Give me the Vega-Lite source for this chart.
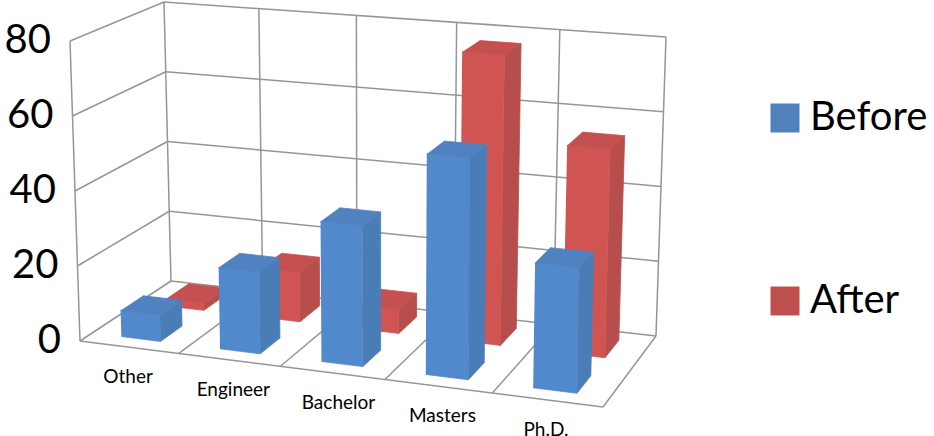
{
"$schema":"https://vega.github.io/schema/vega-lite/v6.json",
"width":934,"height":436,"padding":0,"autosize":{"type":"none"},
"background":"white",
"config":{"view":{"stroke":null},"text":{"font":"Lato"}},
"layer":[
{"data":{"values":[
{"ua":0,"da":0,"va":0,"ub":0,"db":1,"vb":0},{"ua":0,"da":0,"va":20,"ub":0,"db":1,"vb":20},{"ua":0,"da":0,"va":40,"ub":0,"db":1,"vb":40},{"ua":0,"da":0,"va":60,"ub":0,"db":1,"vb":60},{"ua":0,"da":0,"va":80,"ub":0,"db":1,"vb":80},
{"ua":0,"da":1,"va":0,"ub":5,"db":1,"vb":0},{"ua":0,"da":1,"va":20,"ub":5,"db":1,"vb":20},{"ua":0,"da":1,"va":40,"ub":5,"db":1,"vb":40},{"ua":0,"da":1,"va":60,"ub":5,"db":1,"vb":60},{"ua":0,"da":1,"va":80,"ub":5,"db":1,"vb":80},
{"ua":0,"da":1,"va":0,"ub":0,"db":1,"vb":80},{"ua":1,"da":1,"va":0,"ub":1,"db":1,"vb":80},{"ua":2,"da":1,"va":0,"ub":2,"db":1,"vb":80},{"ua":3,"da":1,"va":0,"ub":3,"db":1,"vb":80},{"ua":4,"da":1,"va":0,"ub":4,"db":1,"vb":80},{"ua":5,"da":1,"va":0,"ub":5,"db":1,"vb":80},
{"ua":1,"da":0,"va":0,"ub":1,"db":1,"vb":0},{"ua":2,"da":0,"va":0,"ub":2,"db":1,"vb":0},{"ua":3,"da":0,"va":0,"ub":3,"db":1,"vb":0},{"ua":4,"da":0,"va":0,"ub":4,"db":1,"vb":0},{"ua":5,"da":0,"va":0,"ub":5,"db":1,"vb":0},
{"ua":0,"da":0,"va":0,"ub":0,"db":0,"vb":80},{"ua":0,"da":0,"va":0,"ub":5,"db":0,"vb":0}
]},
"transform":[
{"calculate":"0.932*(datum.ua/5)/(1-0.068*(datum.ua/5))","as":"t"},
{"calculate":"(1-datum.da)*((1-datum.t)*80+datum.t*603)+datum.da*((1-datum.t)*171+datum.t*656)","as":"gx"},
{"calculate":"(1-datum.da)*((1-datum.t)*341+datum.t*407)+datum.da*((1-datum.t)*281+datum.t*336)","as":"gy"},
{"calculate":"(1-datum.da)*((1-datum.t)*70+datum.t*610)+datum.da*((1-datum.t)*164+datum.t*666)","as":"tx"},
{"calculate":"(1-datum.da)*((1-datum.t)*41+datum.t*85)+datum.da*((1-datum.t)*2+datum.t*37)","as":"ty"},
{"calculate":"datum.gx+(datum.tx-datum.gx)*datum.va/80","as":"xa"},
{"calculate":"datum.gy+(datum.ty-datum.gy)*datum.va/80","as":"ya"},
{"calculate":"0.932*(datum.ub/5)/(1-0.068*(datum.ub/5))","as":"t"},
{"calculate":"(1-datum.db)*((1-datum.t)*80+datum.t*603)+datum.db*((1-datum.t)*171+datum.t*656)","as":"gx"},
{"calculate":"(1-datum.db)*((1-datum.t)*341+datum.t*407)+datum.db*((1-datum.t)*281+datum.t*336)","as":"gy"},
{"calculate":"(1-datum.db)*((1-datum.t)*70+datum.t*610)+datum.db*((1-datum.t)*164+datum.t*666)","as":"tx"},
{"calculate":"(1-datum.db)*((1-datum.t)*41+datum.t*85)+datum.db*((1-datum.t)*2+datum.t*37)","as":"ty"},
{"calculate":"datum.gx+(datum.tx-datum.gx)*datum.vb/80","as":"xb"},
{"calculate":"datum.gy+(datum.ty-datum.gy)*datum.vb/80","as":"yb"}
],
"mark":{"type":"rule","color":"#969696","strokeWidth":1.5},
"encoding":{
"x":{"field":"xa","type":"quantitative","scale":{"domain":[0,934],"nice":false,"zero":false},"axis":null},
"y":{"field":"ya","type":"quantitative","scale":{"domain":[436,0],"nice":false,"zero":false},"axis":null},
"x2":{"field":"xb"},"y2":{"field":"yb"}
}},
{"data":{"values":[
{"education":"Other","period":"After","value":2},
{"education":"Engineer","period":"After","value":13.5},
{"education":"Bachelor","period":"After","value":6.5},
{"education":"Masters","period":"After","value":77},
{"education":"Ph.D.","period":"After","value":54.5},
{"education":"Other","period":"Before","value":7},
{"education":"Engineer","period":"Before","value":21.5},
{"education":"Bachelor","period":"Before","value":36.5},
{"education":"Masters","period":"Before","value":56.7},
{"education":"Ph.D.","period":"Before","value":31.7}
]},
"transform":[
{"calculate":"[{f:'front',o:0,a:0,b:0,h:0},{f:'front',o:1,a:1,b:0,h:0},{f:'front',o:2,a:1,b:0,h:1},{f:'front',o:3,a:0,b:0,h:1},{f:'side',o:0,a:1,b:0,h:0},{f:'side',o:1,a:1,b:1,h:0},{f:'side',o:2,a:1,b:1,h:1},{f:'side',o:3,a:1,b:0,h:1},{f:'top',o:0,a:0,b:0,h:1},{f:'top',o:1,a:1,b:0,h:1},{f:'top',o:2,a:1,b:1,h:1},{f:'top',o:3,a:0,b:1,h:1}]","as":"verts"},
{"flatten":["verts"]},
{"calculate":"indexof(['Other','Engineer','Bachelor','Masters','Ph.D.'],datum.education)","as":"i"},
{"calculate":"datum.period==='Before'?(datum.verts.b?0.385:0.135):(datum.verts.b?0.89:0.64)","as":"d"},
{"calculate":"(datum.i+(datum.verts.a?0.7:0.3))/5","as":"s"},
{"calculate":"datum.verts.h?datum.value:0","as":"v"},
{"calculate":"0.932*datum.s/(1-0.068*datum.s)","as":"t"},
{"calculate":"(1-datum.d)*((1-datum.t)*80+datum.t*603)+datum.d*((1-datum.t)*171+datum.t*656)","as":"gx"},
{"calculate":"(1-datum.d)*((1-datum.t)*341+datum.t*407)+datum.d*((1-datum.t)*281+datum.t*336)","as":"gy"},
{"calculate":"(1-datum.d)*((1-datum.t)*70+datum.t*610)+datum.d*((1-datum.t)*164+datum.t*666)","as":"tx"},
{"calculate":"(1-datum.d)*((1-datum.t)*41+datum.t*85)+datum.d*((1-datum.t)*2+datum.t*37)","as":"ty"},
{"calculate":"datum.gx+(datum.tx-datum.gx)*datum.v/80","as":"px"},
{"calculate":"datum.gy+(datum.ty-datum.gy)*datum.v/80","as":"py"},
{"calculate":"datum.period+' '+datum.verts.f","as":"shade"},
{"calculate":"datum.education+' '+datum.period+' '+datum.verts.f","as":"poly"},
{"calculate":"datum.verts.o","as":"vertex"}
],
"mark":{"type":"line","filled":true,"strokeWidth":0.8,"strokeJoin":"round"},
"encoding":{
"x":{"field":"px","type":"quantitative","scale":{"domain":[0,934],"nice":false,"zero":false},"axis":null},
"y":{"field":"py","type":"quantitative","scale":{"domain":[436,0],"nice":false,"zero":false},"axis":null},
"order":{"field":"vertex","type":"quantitative"},
"detail":{"field":"poly"},
"stroke":{"field":"shade","type":"nominal","legend":null,
"scale":{"domain":["Before","After","Before front","Before side","Before top","After front","After side","After top"],
"range":["#4f81bd","#c0504d","#5288cc","#4a7db8","#5082c2","#d05552","#b84e4b","#c4514f"]}},
"color":{"field":"shade","type":"nominal",
"scale":{"domain":["Before","After","Before front","Before side","Before top","After front","After side","After top"],
"range":["#4f81bd","#c0504d","#5288cc","#4a7db8","#5082c2","#d05552","#b84e4b","#c4514f"]},
"legend":{"values":["Before","After"],"title":null,"orient":"none","legendX":765,"legendY":98,"direction":"vertical","symbolType":"square","symbolSize":841,"symbolStrokeWidth":0,"labelFontSize":40,"labelFont":"Lato","labelColor":"black","labelOffset":5,"rowPadding":143,"padding":0}}
}},
{"data":{"values":[{"tick":0},{"tick":20},{"tick":40},{"tick":60},{"tick":80}]},
"transform":[
{"calculate":"80+(70-80)*datum.tick/80","as":"px"},
{"calculate":"341+(41-341)*datum.tick/80","as":"py"}
],
"mark":{"type":"text","align":"right","baseline":"middle","dx":-19,"dy":0,"fontSize":40,"font":"Lato","color":"black"},
"encoding":{
"x":{"field":"px","type":"quantitative","scale":{"domain":[0,934],"nice":false,"zero":false},"axis":null},
"y":{"field":"py","type":"quantitative","scale":{"domain":[436,0],"nice":false,"zero":false},"axis":null},
"text":{"field":"tick","type":"quantitative"}
}},
{"data":{"values":[{"education":"Other","pos":0.47},{"education":"Engineer","pos":1.52},{"education":"Bachelor","pos":2.54},{"education":"Masters","pos":3.52},{"education":"Ph.D.","pos":4.47}]},
"transform":[
{"calculate":"0.932*(datum.pos/5)/(1-0.068*(datum.pos/5))","as":"t"},
{"calculate":"(1-datum.t)*80+datum.t*603","as":"px"},
{"calculate":"(1-datum.t)*341+datum.t*407","as":"py"}
],
"mark":{"type":"text","align":"center","baseline":"middle","dx":2,"dy":30,"fontSize":19,"font":"Lato","color":"black"},
"encoding":{
"x":{"field":"px","type":"quantitative","scale":{"domain":[0,934],"nice":false,"zero":false},"axis":null},
"y":{"field":"py","type":"quantitative","scale":{"domain":[436,0],"nice":false,"zero":false},"axis":null},
"text":{"field":"education","type":"nominal"}
}}
]
}
